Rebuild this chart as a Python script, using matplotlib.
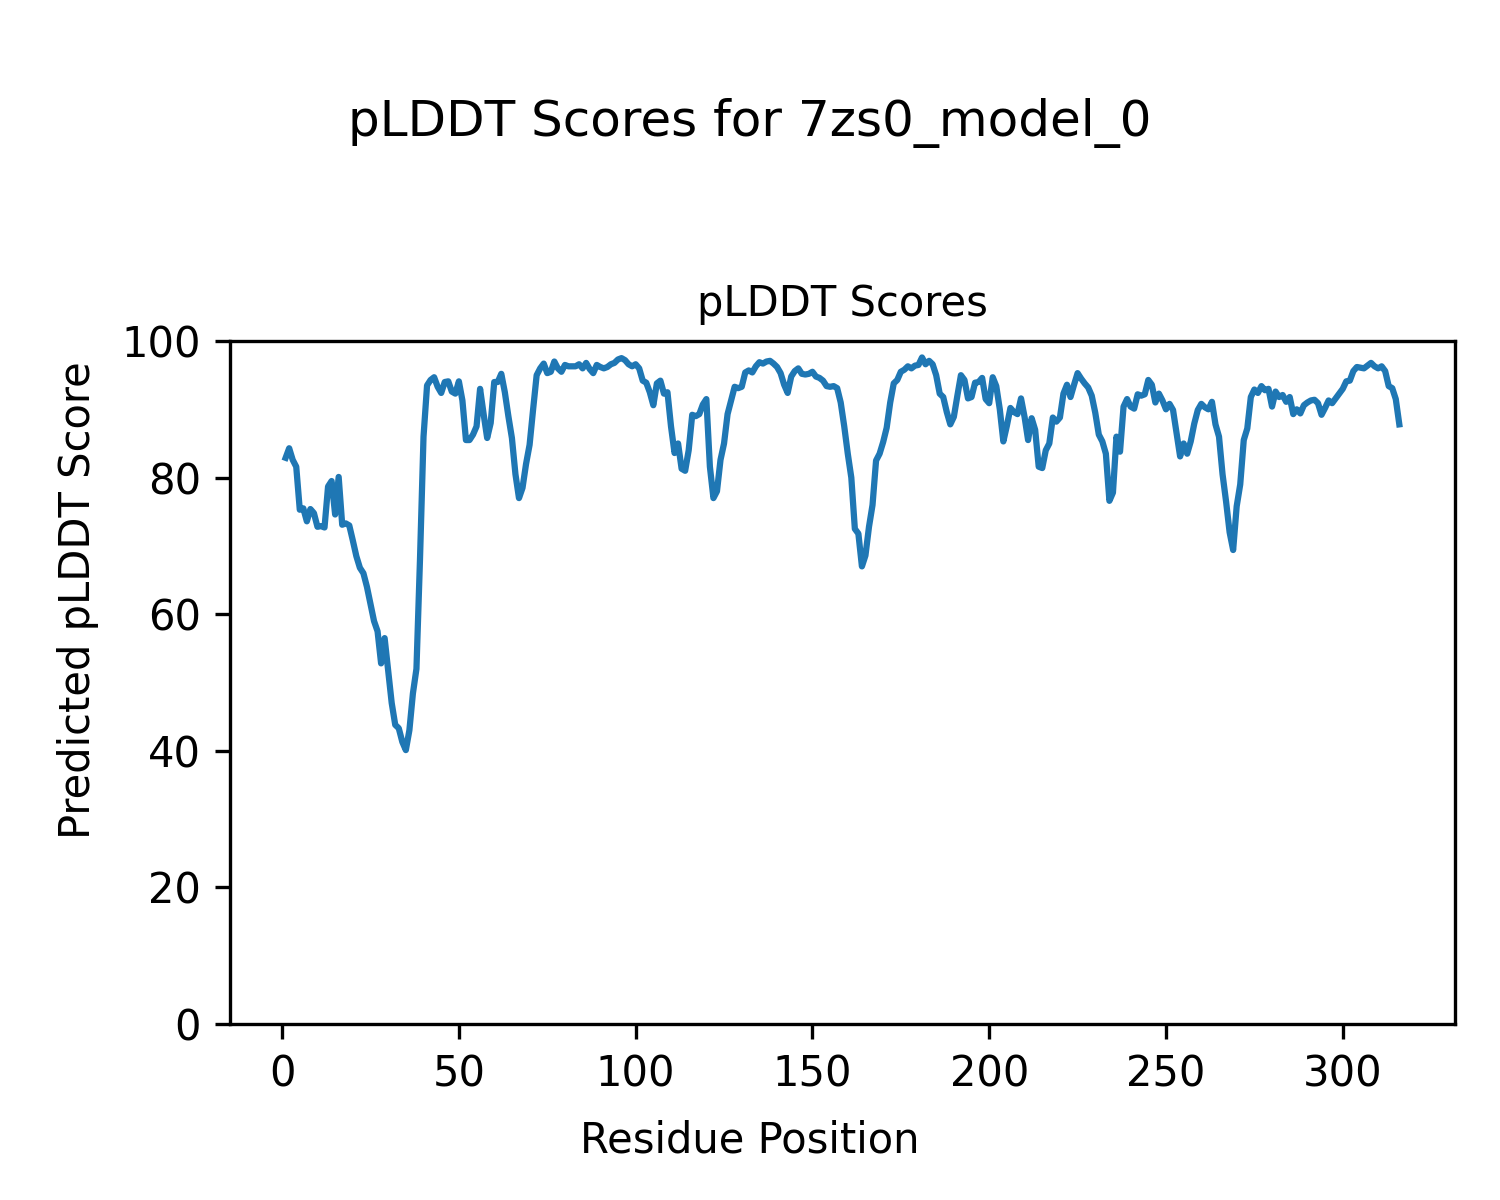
import numpy as np
import matplotlib
matplotlib.use("Agg")
import matplotlib.pyplot as plt

model_name = "7zs0_model_0"

# pLDDT per residue (residues 1..316)
plddt = [
    82.9, 84.3, 82.6, 81.6, 75.3, 75.5, 73.6, 75.4, 74.8, 72.8,
    72.9, 72.7, 78.7, 79.5, 74.6, 80.1, 73.1, 73.3, 73.0, 70.8,
    68.5, 66.8, 66.0, 64.0, 61.5, 59.0, 57.5, 52.8, 56.5, 51.8,
    47.0, 43.8, 43.3, 41.3, 40.1, 43.0, 48.4, 52.0, 68.0, 86.0,
    93.5, 94.3, 94.7, 93.3, 92.4, 94.0, 94.1, 92.6, 92.3, 94.1,
    91.3, 85.5, 85.5, 86.3, 87.5, 93.0, 89.3, 85.8, 88.0, 94.0,
    94.0, 95.2, 92.5, 89.0, 85.8, 80.5, 77.0, 78.5, 82.0, 84.8,
    90.0, 95.0, 96.0, 96.7, 95.3, 95.5, 97.0, 96.0, 95.5, 96.5,
    96.3, 96.3, 96.3, 96.6, 96.0, 96.8, 95.9, 95.3, 96.5, 96.2,
    96.0, 96.2, 96.6, 96.8, 97.3, 97.5, 97.2, 96.6, 96.3, 96.6,
    96.0, 94.2, 93.9, 92.5, 90.6, 93.8, 94.2, 92.3, 92.5, 87.5,
    83.6, 85.0, 81.3, 81.0, 84.0, 89.2, 89.0, 89.3, 90.7, 91.5,
    81.6, 77.0, 78.0, 82.6, 85.0, 89.3, 91.3, 93.3, 93.1, 93.3,
    95.4, 95.7, 95.4, 96.3, 96.9, 96.7, 97.0, 97.1, 96.7, 96.2,
    95.3, 93.6, 92.4, 94.8, 95.6, 96.0, 95.2, 95.1, 95.2, 95.5,
    94.8, 94.6, 94.2, 93.4, 93.3, 93.4, 93.1, 91.0, 87.5, 83.5,
    80.0, 72.5, 71.8, 67.0, 68.6, 72.8, 76.0, 82.5, 83.5, 85.2,
    87.3, 91.0, 93.8, 94.3, 95.5, 95.8, 96.3, 96.0, 96.4, 96.5,
    97.6, 96.6, 97.1, 96.6, 95.0, 92.3, 91.8, 89.6, 87.8, 88.9,
    92.0, 95.0, 94.3, 91.6, 91.8, 93.9, 94.0, 94.6, 91.5, 90.9,
    94.7, 93.4, 90.0, 85.3, 87.6, 90.2, 89.6, 89.3, 91.6, 88.9,
    85.5, 88.7, 87.0, 81.6, 81.4, 84.0, 85.0, 88.8, 88.2, 88.8,
    92.3, 93.6, 91.8, 93.6, 95.3, 94.5, 93.8, 93.2, 92.0, 89.5,
    86.3, 85.3, 83.5, 76.6, 77.8, 86.0, 83.8, 90.4, 91.5, 90.4,
    90.1, 92.2, 92.0, 92.2, 94.3, 93.6, 91.0, 92.3, 91.3, 90.0,
    90.8, 89.9, 86.5, 83.1, 85.0, 83.5, 85.3, 87.9, 89.9, 90.8,
    90.3, 90.0, 91.1, 87.8, 86.0, 80.5, 76.5, 72.0, 69.4, 75.8,
    79.0, 85.5, 87.2, 91.8, 92.9, 92.4, 93.4, 92.8, 93.0, 90.4,
    92.6, 91.8, 92.1, 91.1, 91.8, 89.3, 90.0, 89.4, 90.6, 91.0,
    91.3, 91.4, 90.9, 89.2, 90.2, 91.3, 90.9, 91.6, 92.3, 93.0,
    94.1, 94.2, 95.6, 96.2, 96.1, 96.0, 96.4, 96.8, 96.3, 96.0,
    96.3, 95.6, 93.4, 93.1, 91.5, 87.8,
]
residues = np.arange(1, len(plddt) + 1)

fig = plt.figure(figsize=(5, 4), dpi=300)
ax = fig.add_subplot(111)
fig.subplots_adjust(left=0.1533, right=0.97, bottom=0.1467, top=0.7158)

ax.plot(residues, plddt)
ax.set_ylim(0, 100)
ax.set_title("pLDDT Scores", fontsize=10)
fig.suptitle(f"pLDDT Scores for {model_name}", fontsize=12, y=0.918)
fig.supxlabel("Residue Position", fontsize=10, y=0.032)
fig.supylabel("Predicted pLDDT Score", fontsize=10, x=0.038)

fig.savefig("out.png", dpi=300)
